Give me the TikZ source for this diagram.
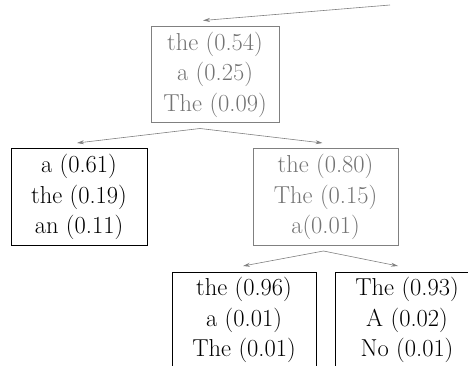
\documentclass[tikz,border=0pt]{standalone}
\usepackage{tikz}
\usetikzlibrary{arrows.meta,positioning}

\begin{document}
\begin{tikzpicture}[x=1pt, y=1pt,
  beam/.style={rectangle, draw=black!50, line width=1pt, text=black!55,
    minimum height=96pt, align=center, outer sep=6pt, inner sep=0pt,
    font=\fontsize{24.5}{30.5}\selectfont},
  done/.style={beam, draw=black, text=black},
  edge/.style={-{Stealth[length=7pt,width=4pt]}, draw=black!50, line width=0.6pt}
]
\useasboundingbox (0,0) rectangle (468,-366);

% Boxes
\node[beam, minimum width=128pt] (root) at (215,-74.5) {the (0.54)\\a (0.25)\\The (0.09)};
\node[done, minimum width=136pt] (left) at (79,-197)   {a (0.61)\\the (0.19)\\an (0.11)};
\node[beam, minimum width=145pt] (mid)  at (325.5,-197) {the (0.80)\\The (0.15)\\a(0.01)};
\node[done, minimum width=144pt] (ll)   at (244,-320)  {the (0.96)\\a (0.01)\\The (0.01)};
\node[done, minimum width=144pt] (lr)   at (407,-320)  {The (0.93)\\A (0.02)\\No (0.01)};

% Arrows
\coordinate (start) at (390,-5);
\draw[edge] (start) -- ([xshift=-12pt]root.north);
\draw[edge] ([xshift=-15pt]root.south) -- ([xshift=-2pt]left.north);
\draw[edge] ([xshift=-15pt]root.south) -- ([xshift=-3pt]mid.north);
\draw[edge] ([xshift=-2pt]mid.south) -- ([xshift=-1pt]ll.north);
\draw[edge] ([xshift=-2pt]mid.south) -- ([xshift=-9pt]lr.north);

\end{tikzpicture}
\end{document}
